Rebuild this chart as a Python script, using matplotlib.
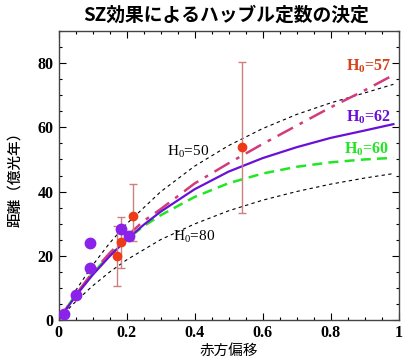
import matplotlib
matplotlib.use("Agg")
import matplotlib.pyplot as plt
from matplotlib.ticker import MultipleLocator, FixedLocator

plt.rcParams['mathtext.fontset'] = 'custom'
plt.rcParams['mathtext.rm'] = 'Liberation Serif'
plt.rcParams['mathtext.bf'] = 'Liberation Serif:bold'

# observed clusters (redshift, distance in 1e8 light years)
purple_z = [0.017, 0.050, 0.092, 0.092, 0.183, 0.208]
purple_d = [1.9, 7.8, 16.3, 24.1, 28.2, 26.1]

red_z = [0.171, 0.183, 0.220, 0.541]
red_d = [19.9, 24.2, 32.4, 54.0]
red_lo = [9.4, 8.1, 7.9, 20.8]
red_hi = [9.4, 8.0, 10.1, 26.4]

# model curves
curve_z = [0.0, 0.05, 0.1, 0.15, 0.2, 0.25, 0.3, 0.4, 0.5, 0.6, 0.7, 0.8, 0.9, 0.985]
h62 = [0.0, 7.4, 14.0, 19.8, 25.0, 29.6, 33.7, 40.7, 46.2, 50.4, 53.8, 56.7, 59.0, 61.0]
h60 = [0.0, 7.8, 14.5, 20.1, 25.0, 29.2, 32.6, 38.3, 42.6, 45.6, 47.7, 49.1, 50.0, 50.5]
h57 = [0.0, 7.8, 14.8, 20.8, 26.0, 30.8, 34.5, 42.5, 48.8, 54.8, 60.5, 66.2, 71.5, 76.3]

dot_z = [0.05, 0.1, 0.15, 0.2, 0.3, 0.4, 0.5, 0.6, 0.7, 0.8, 0.9, 0.985]
h50 = [9.1, 17.0, 23.9, 29.9, 39.9, 47.9, 54.3, 59.6, 64.0, 67.6, 70.7, 73.4]
dot80_z = [0.03, 0.05, 0.1, 0.15, 0.2, 0.3, 0.4, 0.5, 0.6, 0.7, 0.8, 0.9, 0.985]
h80 = [3.5, 5.7, 10.6, 14.9, 18.7, 25.0, 29.9, 34.0, 37.3, 40.0, 42.3, 44.2, 45.6]

fig = plt.figure(figsize=(4.1, 3.64), dpi=100)
ax = fig.add_axes([0.1427, 0.1209, 0.8293, 0.7939])

ax.plot(dot_z, h50, color='black', lw=0.8, linestyle=(0, (3, 3)))
ax.plot(dot80_z, h80, color='black', lw=0.8, linestyle=(0, (3, 3)))
ax.plot(curve_z, h60, color='#22e622', lw=1.8, linestyle=(0, (4, 2.5)))
ax.plot(curve_z, h57, color='#d23c7a', lw=1.8, linestyle=(0, (7, 3, 1.5, 3)))
ax.plot(curve_z, h62, color='#6a0fd6', lw=1.6)

ax.errorbar(red_z, red_d, yerr=[red_lo, red_hi], fmt='o', color='#ee3a16',
            ecolor='#cc8080', elinewidth=1, capsize=3, ms=6, zorder=5)
ax.plot(purple_z, purple_d, 'o', color='#8a22ea', ms=7.5, zorder=6)

ax.set_xlim(0, 1)
ax.set_ylim(0, 90)
ax.xaxis.set_major_locator(FixedLocator([0, 0.2, 0.4, 0.6, 0.8, 1.0]))
ax.set_xticklabels(['0', '0.2', '0.4', '0.6', '0.8', '1'])
ax.xaxis.set_minor_locator(MultipleLocator(0.05))
ax.yaxis.set_major_locator(MultipleLocator(20))
ax.yaxis.set_minor_locator(MultipleLocator(5))
ax.tick_params(which='both', direction='in', top=True, right=True, width=0.8)
ax.tick_params(which='major', length=5)
ax.tick_params(which='minor', length=2.5)
for lab in ax.get_xticklabels() + ax.get_yticklabels():
    lab.set_family('Liberation Serif')
    lab.set_fontweight('bold')
    lab.set_fontsize(11.5)
for sp in ax.spines.values():
    sp.set_linewidth(1.0)
    sp.set_color('#444444')

ax.text(0.318, 52.3, r'H$_0$=50', fontsize=11, family='Liberation Serif', va='center')
ax.text(0.337, 25.9, r'H$_0$=80', fontsize=11, family='Liberation Serif', va='center')
ax.text(0.845, 79.2, r'H$_\mathbf{0}$=57', fontsize=11.5, family='Liberation Serif',
        fontweight='bold', color='#d8401a', va='center')
ax.text(0.845, 63.2, r'H$_\mathbf{0}$=62', fontsize=11.5, family='Liberation Serif',
        fontweight='bold', color='#6a0fd6', va='center')
ax.text(0.84, 53.1, r'H$_\mathbf{0}$=60', fontsize=11.5, family='Liberation Serif',
        fontweight='bold', color='#22e622', va='center')

fig.text(0.552, 0.957, 'SZ効果によるハッブル定数の決定', family='Noto Sans CJK JP',
         fontsize=13.5, fontweight='bold', ha='center', va='center')
ax.set_xlabel('赤方偏移', family='Noto Sans CJK JP', fontsize=10.5, labelpad=2)
ax.set_ylabel('距離（億光年）', family='Noto Sans CJK JP', fontsize=10.5,
              fontweight='medium', labelpad=11)

fig.savefig('out.png', dpi=100)
